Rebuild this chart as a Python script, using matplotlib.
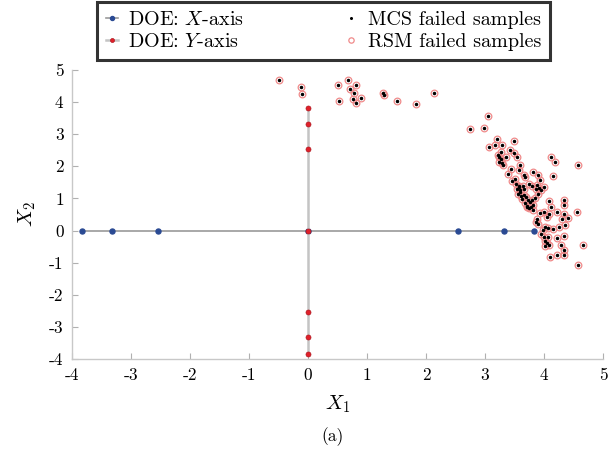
import numpy as np
import matplotlib
matplotlib.use("Agg")
import matplotlib.pyplot as plt

plt.rcParams['font.family'] = ['cmr10', 'DejaVu Serif']
plt.rcParams['mathtext.fontset'] = 'cm'
plt.rcParams['axes.unicode_minus'] = False

# DOE points
doe_x_axis = [-3.83, -3.32, -2.55, 0.0, 2.55, 3.32, 3.83]
doe_y_axis = [-3.83, -3.32, -2.55, 0.0, 2.55, 3.32, 3.83]

# Failed samples (MCS == RSM positions)
fail_x = [
    -0.49, -0.12, -0.11, 0.51, 0.67, 0.82, 0.71, 0.78, 0.52, 0.77, 0.89, 0.82,
    1.27, 1.28, 1.51, 1.83, 2.13,
    3.056, 2.746, 2.983, 3.209, 3.175, 3.294, 3.492, 3.068, 3.266, 3.424, 3.486,
    3.215, 3.243, 3.266, 3.356, 3.548, 3.283, 3.243, 4.124, 4.181, 4.571, 3.588,
    3.441, 3.571, 3.667, 3.684, 3.814, 3.893, 3.384, 4.153, 3.452, 3.938, 3.520,
    3.571, 3.542, 3.593, 3.644, 3.740, 3.797, 3.881, 3.921, 4.000, 3.864, 3.949,
    3.904, 3.559, 3.605, 3.661, 3.627, 3.700, 3.729, 3.797, 3.763, 3.814, 3.712,
    3.740, 3.808, 3.780, 4.090, 4.339, 4.345, 4.124, 3.938, 4.006, 4.079, 4.051,
    4.220, 4.339, 4.412, 4.305, 4.559, 3.881, 3.859, 3.893, 4.017, 3.977, 4.062,
    4.158, 4.254, 4.350, 3.944, 4.000, 4.068, 4.023, 4.045, 4.215, 4.345, 4.011,
    4.079, 4.282, 4.345, 4.667, 4.107, 4.215, 4.339, 4.576,
    3.60, 3.68, 3.71, 3.31, 3.50, 3.58, 3.85, 3.66,
]
fail_y = [
    4.68, 4.46, 4.25, 4.52, 4.68, 4.53, 4.42, 4.27, 4.03, 4.10, 4.13, 3.98,
    4.27, 4.21, 4.03, 3.95, 4.27,
    3.567, 3.152, 3.193, 2.841, 2.673, 2.654, 2.779, 2.592, 2.436, 2.508, 2.424,
    2.342, 2.280, 2.218, 2.280, 2.299, 2.093, 2.143, 2.280, 2.125, 2.050, 2.040,
    1.906, 1.875, 1.719, 1.667, 1.822, 1.719, 1.770, 1.698, 1.552, 1.562, 1.449,
    1.345, 1.283, 1.262, 1.386, 1.459, 1.386, 1.417, 1.324, 1.366, 1.283, 1.262,
    1.146, 1.146, 1.075, 1.117, 0.991, 1.043, 0.960, 0.939, 0.877, 0.804, 0.732,
    0.690, 0.628, 0.722, 0.929, 0.960, 0.784, 0.732, 0.535, 0.566, 0.504, 0.421,
    0.577, 0.525, 0.390, 0.348, 0.566, 0.369, 0.275, 0.192, 0.120, 0.026, 0.068,
    0.037, 0.099, 0.161, -0.119, -0.212, -0.202, -0.327, -0.379, -0.233, -0.161, -0.472,
    -0.462, -0.441, -0.597, -0.462, -0.825, -0.763, -0.773, -1.085,
    1.20, 0.85, 0.78, 2.05, 1.62, 1.40, 1.00, 1.30,
]

xticks = [-4, -3, -2, -1, 0, 1, 2, 3, 4, 5]
yticks = [-4, -3, -2, -1, 0, 1, 2, 3, 4, 5]

fig = plt.figure(figsize=(6.15, 4.5), dpi=100)
ax = fig.add_axes([72/615, 1-359/450, (603-72)/615, (359-70)/450])

zeros = [0.0]*len(doe_x_axis)
ax.plot(doe_x_axis, zeros, '-', color='#9a9a9a', lw=1.2, marker='o',
        ms=3.6, mfc='#2a4a93', mec='#2a4a93', zorder=2, label='DOE: $X$-axis')
ax.plot(zeros, doe_y_axis, '-', color='#c4c4c4', lw=1.8, marker='o',
        ms=3.6, mfc='#e0202a', mec='#b01a22', mew=0.5, zorder=3, label='DOE: $Y$-axis')
ax.plot(fail_x, fail_y, 'o', ls='none', ms=1.5, color='black', zorder=5,
        label='MCS failed samples')
ax.plot(fail_x, fail_y, 'o', ls='none', ms=4.8, mfc='none', mec='#f08a8a', mew=0.9,
        zorder=4, label='RSM failed samples')

ax.set_xlim(-4, 5)
ax.set_ylim(-4, 5)
ax.set_xticks(xticks)
ax.set_yticks(yticks)
ax.set_xticklabels([str(t) for t in xticks], fontsize=12.5)
ax.set_yticklabels([str(t) for t in yticks], fontsize=12.5)
for s in ['top', 'right']:
    ax.spines[s].set_visible(False)
for s in ['left', 'bottom']:
    ax.spines[s].set_color('#c8c8c8')
    ax.spines[s].set_linewidth(1.0)
ax.tick_params(direction='in', length=4, color='#b0b0b0', width=0.8, pad=6)

ax.set_xlabel('$X_1$', fontsize=15, labelpad=8)
ax.set_ylabel('$X_2$', fontsize=15, labelpad=8)

fig.text(333/615, 1-437/450, '(a)', ha='center', va='center', fontsize=12.5)

leg = fig.legend(loc='lower left', ncol=2, mode='expand',
                 bbox_to_anchor=(97/615, 1-60/450, (550-97)/615, 55/450),
                 bbox_transform=fig.transFigure, fontsize=14.5, frameon=True,
                 fancybox=False, handlelength=0.6, handletextpad=0.5,
                 borderaxespad=0, labelspacing=0.2, borderpad=0.45,
                 columnspacing=1.0, markerscale=0.8)
leg.get_frame().set_edgecolor('black')
leg.get_frame().set_linewidth(2.2)

fig.savefig('out.png', dpi=100)
